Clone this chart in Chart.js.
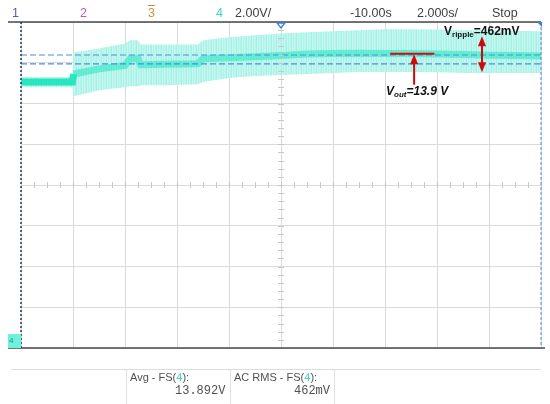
<!DOCTYPE html>
<html>
<head>
<meta charset="utf-8">
<script src="https://cdn.jsdelivr.net/npm/chart.js@4.4.0/dist/chart.umd.min.js"></script>
<style>
  html, body { margin: 0; padding: 0; background: #fff; }
  #wrap { position: relative; width: 550px; height: 404px; overflow: hidden; font-family: "Liberation Sans", Arial, sans-serif; }
  #scope { position: absolute; left: 0; top: 0; }
  .lbl { position: absolute; white-space: nowrap; line-height: 1; }
  .hdr { font-size: 12.5px; top: 7px; color: #404040; }
  .meas { font-family: "Liberation Sans Narrow", "Arial Narrow", "Liberation Sans", sans-serif; font-size: 11px; color: #505050; }
  .num { font-family: "Liberation Mono", "DejaVu Sans Mono", monospace; font-size: 12px; color: #505050; }
  .note { font-family: "Liberation Sans", Arial, sans-serif; font-weight: bold; font-size: 12px; color: #111; }
  .note sub { font-size: 8px; vertical-align: -2px; }
  .sep { position: absolute; top: 369px; width: 1px; height: 35px; background: #e0e0e0; }
</style>
</head>
<body>
<div id="wrap">
  <canvas id="scope" width="550" height="404"></canvas>

  <!-- barre du haut : voies, calibre, base de temps -->
  <span class="lbl hdr" style="left:12px;color:#5a55c8">1</span>
  <span class="lbl hdr" style="left:80px;color:#c454d4">2</span>
  <span class="lbl hdr" style="left:148px;color:#d48c3c;text-decoration:overline">3</span>
  <span class="lbl hdr" style="left:216px;color:#3ed6c6">4</span>
  <span class="lbl hdr" style="left:235px">2.00V/</span>
  <span class="lbl hdr" style="left:350px">-10.00s</span>
  <span class="lbl hdr" style="left:417px">2.000s/</span>
  <span class="lbl hdr" style="left:492px">Stop</span>

  <!-- annotations -->
  <span class="lbl note" style="left:444px;top:25px">V<sub>ripple</sub>=462mV</span>
  <span class="lbl note" style="left:386px;top:85px;font-style:italic">V<sub>out</sub>=13.9 V</span>

  <!-- marqueur de la voie 4 -->
  <span class="lbl" style="left:9px;top:337px;font-size:8px;color:#1a9c8c">4</span>

  <!-- zone des mesures -->
  <div class="sep" style="left:126px"></div>
  <div class="sep" style="left:230px"></div>
  <div class="sep" style="left:334px"></div>
  <span class="lbl meas" style="left:130px;top:372px">Avg - FS(<span style="color:#3ed6c6">4</span>):</span>
  <span class="lbl num" style="left:175px;top:385px">13.892V</span>
  <span class="lbl meas" style="left:234px;top:372px">AC RMS - FS(<span style="color:#3ed6c6">4</span>):</span>
  <span class="lbl num" style="left:294px;top:385px">462mV</span>
</div>

<script>
// base de temps : 2 s/div, 10 divisions
const timeS = [0, 1, 1.98, 2.02, 3, 4, 4.2, 4.5, 4.6, 5.5, 6.8, 7.0, 8, 9, 10, 11, 12, 13, 14, 15, 16, 17, 18, 19, 20];
// enveloppe de l'ondulation (V)
const envUpperV = [12.85, 12.85, 12.85, 14.05, 14.25, 14.5, 14.65, 14.65, 14.45, 14.45, 14.45, 14.65, 14.8, 14.9, 14.98, 15.05, 15.1, 15.15, 15.2, 15.2, 15.18, 15.15, 15.15, 15.12, 15.1];
const envLowerV = [12.35, 12.35, 12.35, 11.9, 12.2, 12.35, 12.4, 12.4, 12.45, 12.45, 12.5, 12.6, 12.8, 12.9, 12.95, 13.0, 13.05, 13.1, 13.1, 13.1, 13.08, 13.05, 13.05, 13.05, 13.05];
// trace moyenne (V)
const traceV = [12.6, 12.6, 12.6, 13.0, 13.25, 13.42, 13.75, 13.75, 13.45, 13.48, 13.5, 13.75, 13.8, 13.85, 13.9, 13.98, 14.0, 14.02, 14.0, 14.0, 13.98, 13.95, 13.92, 13.9, 13.88];

// curseurs horizontaux (V)
const cursorV = [13.93, 13.49];

// graduations verticales : 2 V/div, 8 divisions, masse à -0.45 V du bas
const yGridV = [-0.45, 1.55, 3.55, 5.55, 7.55, 9.55, 11.55, 13.55, 15.55];

// annotations rouges
const voutLineT = [14.2, 15.9];
const voutLineV = 13.99;
const voutArrowT = 15.12;
const voutArrowV = [12.47, 13.97];
const rippleArrowT = 17.73;
const rippleArrowV = [13.08, 14.85];

const ctx = document.getElementById('scope').getContext('2d');

// motif de hachures verticales pour l'enveloppe
function envelopePattern() {
    const c = document.createElement('canvas');
    c.width = 5; c.height = 1;
    const p = c.getContext('2d');
    const cols = ['#b8f5ec', '#a4f0e4', '#c8f8f1', '#aef2e8', '#c0f6ee'];
    cols.forEach((col, i) => { p.fillStyle = col; p.fillRect(i, 0, 1, 1); });
    return ctx.createPattern(c, 'repeat');
}

const pts = vals => timeS.map((t, i) => ({ x: t, y: vals[i] }));

const scopePlugin = {
    id: 'scope',
    afterDatasetsDraw(chart) {
        const c = chart.ctx;
        const xs = chart.scales.x, ys = chart.scales.y;
        const a = chart.chartArea;
        c.save();

        // petites graduations sur les axes centraux
        const cx = xs.getPixelForValue(10);
        const cy = ys.getPixelForValue(yGridV[4]);
        c.strokeStyle = '#c8c8c8';
        c.lineWidth = 1;
        c.beginPath();
        for (let k = 0; k <= 40; k++) {
            const y = Math.round(ys.getPixelForValue(yGridV[0] + k * 0.4)) + 0.5;
            c.moveTo(cx - 3, y); c.lineTo(cx + 3, y);
        }
        for (let k = 0; k <= 40; k++) {
            const x = Math.round(xs.getPixelForValue(k * 0.5)) + 0.5;
            c.moveTo(x, cy - 3); c.lineTo(x, cy + 3);
        }
        c.stroke();

        // cadre
        c.strokeStyle = '#4a4a4a';
        c.lineWidth = 1.5;
        c.beginPath();
        c.moveTo(8, a.top); c.lineTo(a.right, a.top);
        c.moveTo(8, a.bottom); c.lineTo(a.right + 4, a.bottom);
        c.stroke();
        c.setLineDash([2, 2]);
        c.strokeStyle = '#22355a';
        c.beginPath();
        c.moveTo(a.left, a.top); c.lineTo(a.left, a.bottom);
        c.stroke();
        c.setLineDash([3, 2]);
        c.strokeStyle = '#4a8fe0';
        c.lineWidth = 1;
        c.beginPath();
        c.moveTo(a.right, a.top); c.lineTo(a.right, a.bottom);
        c.stroke();
        c.setLineDash([]);

        // coin haut droit
        c.fillStyle = '#3b7fd8';
        c.beginPath();
        c.moveTo(a.right - 4, a.top); c.lineTo(a.right + 1, a.top); c.lineTo(a.right + 1, a.top + 5);
        c.closePath(); c.fill();

        // repère de déclenchement
        c.strokeStyle = '#3b7fd8';
        c.lineWidth = 1.3;
        c.beginPath();
        c.moveTo(cx - 4, a.top + 1); c.lineTo(cx + 4, a.top + 1); c.lineTo(cx, a.top + 6);
        c.closePath(); c.stroke();

        // repère de la voie 4
        c.fillStyle = '#6ff0dc';
        c.fillRect(8, a.bottom - 14, 13, 14);

        // flèches rouges
        c.strokeStyle = '#cc0a0a';
        c.fillStyle = '#cc0a0a';
        c.lineWidth = 2;
        const arrowHead = (x, y, dir) => {
            c.beginPath();
            c.moveTo(x, y); c.lineTo(x - 4, y - dir * 10); c.lineTo(x + 4, y - dir * 10);
            c.closePath(); c.fill();
        };
        const vx = xs.getPixelForValue(voutArrowT);
        const vy0 = ys.getPixelForValue(voutArrowV[0]);
        const vy1 = ys.getPixelForValue(voutArrowV[1]);
        c.beginPath(); c.moveTo(vx, vy0); c.lineTo(vx, vy1 + 8); c.stroke();
        arrowHead(vx, vy1, -1);

        const rx = xs.getPixelForValue(rippleArrowT);
        const ry0 = ys.getPixelForValue(rippleArrowV[0]);
        const ry1 = ys.getPixelForValue(rippleArrowV[1]);
        c.beginPath(); c.moveTo(rx, ry0 - 8); c.lineTo(rx, ry1 + 8); c.stroke();
        arrowHead(rx, ry1, -1);
        arrowHead(rx, ry0, 1);

        // séparateur de la zone des mesures
        c.strokeStyle = '#dcdcdc';
        c.lineWidth = 1;
        c.beginPath(); c.moveTo(11, 369.5); c.lineTo(a.right, 369.5); c.stroke();

        c.restore();
    }
};

new Chart(ctx, {
    type: 'line',
    data: {
        datasets: [
            {
                data: pts(envUpperV),
                borderWidth: 0,
                pointRadius: 0,
                fill: '+1',
                backgroundColor: envelopePattern(),
                order: 10,
            },
            {
                data: pts(envLowerV),
                borderWidth: 0,
                pointRadius: 0,
                fill: false,
                order: 9,
            },
            {
                data: pts(traceV),
                borderColor: 'rgba(24, 228, 186, 0.9)',
                // avant le palier la trace est nette, ensuite elle se noie dans l'ondulation
                segment: {
                    borderColor: s => s.p0.parsed.x < 2 ? 'rgba(24, 228, 186, 0.9)' : 'rgba(30, 230, 190, 0.55)'
                },
                borderWidth: 7,
                pointRadius: 0,
                fill: false,
                order: 5,
            },
            ...cursorV.map(v => ({
                data: [{ x: 0, y: v }, { x: 20, y: v }],
                borderColor: '#4a8fe0',
                borderWidth: 1.2,
                borderDash: [6, 3],
                pointRadius: 0,
                fill: false,
                order: 2,
            })),
            {
                data: voutLineT.map(t => ({ x: t, y: voutLineV })),
                borderColor: '#d40c0c',
                borderWidth: 2,
                pointRadius: 0,
                fill: false,
                order: 0,
            }
        ]
    },
    options: {
        responsive: false,
        animation: false,
        layout: { padding: { left: 21, right: 9, top: 22, bottom: 56 } },
        plugins: { legend: { display: false }, tooltip: { enabled: false } },
        scales: {
            x: {
                type: 'linear',
                min: 0,
                max: 20,
                ticks: { display: false, stepSize: 2 },
                grid: { color: '#dadada', drawTicks: false, lineWidth: 1 },
                border: { display: false }
            },
            y: {
                type: 'linear',
                min: yGridV[0],
                max: yGridV[yGridV.length - 1],
                afterBuildTicks: axis => { axis.ticks = yGridV.map(v => ({ value: v })); },
                ticks: { display: false },
                grid: { color: '#dadada', drawTicks: false, lineWidth: 1 },
                border: { display: false }
            }
        }
    },
    plugins: [scopePlugin]
});
</script>
</body>
</html>
